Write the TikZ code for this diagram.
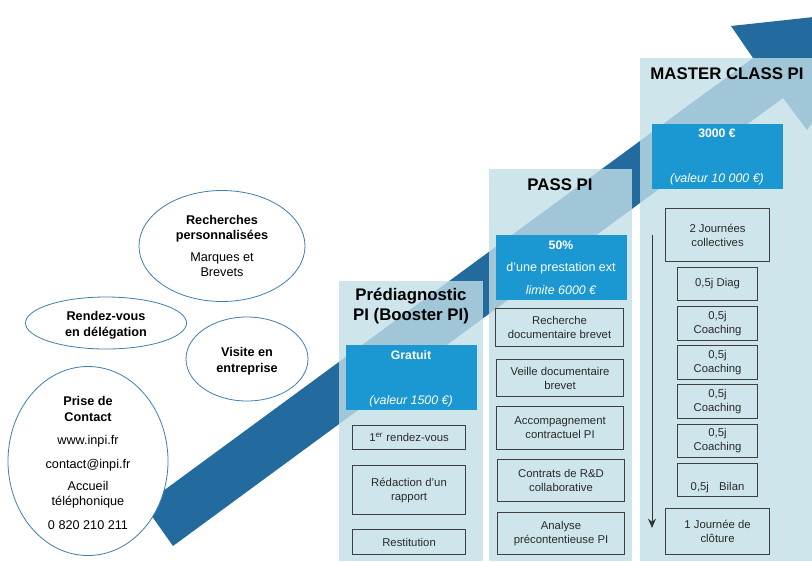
\documentclass[tikz,border=0pt]{standalone}
\usepackage{fontspec}
\setmainfont{Liberation Sans}
\usetikzlibrary{shapes.geometric,arrows.meta}
\definecolor{dark}{HTML}{236B9F}
\definecolor{panelc}{HTML}{C2DFE7}
\definecolor{bluebox}{HTML}{1B98D2}
\definecolor{ringc}{HTML}{3F7FAF}
\definecolor{txt}{HTML}{2A2A2A}
\tikzset{
  x=0.75pt,y=-0.75pt,
  panel/.style={fill=panelc,fill opacity=0.79,draw=none},
  blue/.style={fill=bluebox,draw=none},
  bub/.style={ellipse,draw=ringc,line width=0.6pt,fill=white,inner xsep=0pt,inner ysep=-25pt,align=center,font=\fontsize{9.5}{11.6}\selectfont,text=black},
  title/.style={font=\bfseries\fontsize{12.6}{15.5}\selectfont,text=black,align=center},
  wb/.style={font=\fontsize{9.4}{11}\selectfont,text=white,align=center},
  wbb/.style={wb,font=\bfseries\fontsize{9.2}{11}\selectfont},
  wbi/.style={wb,font=\itshape\fontsize{9.3}{11}\selectfont},
  tb/.style={draw=black!75,line width=0.8pt,fill=none,align=center,font=\fontsize{8.5}{10.5}\selectfont,text=txt,inner sep=0pt},
}
\newcommand{\boxat}[5]{\node[tb,minimum width=#3*0.75pt,minimum height=#4*0.75pt,anchor=north west] (#1) at #2 {#5};}
\newcommand{\down}{\rule{0pt}{10pt}}
\begin{document}
\begin{tikzpicture}
\useasboundingbox (0,0) rectangle (812,561);
\clip (0,0) rectangle (812,561);
\fill[white] (0,0) rectangle (812,561);
% rising arrow
\fill[dark] (144,505) -- (753,58) -- (731,26) -- (860,12) -- (860,60) -- (807,130) -- (783,98) -- (173,546) -- cycle;
% panels
\fill[panel] (339,281) rectangle (483,561);
\fill[panel] (489,169) rectangle (632,561);
\fill[panel] (640,58) rectangle (812,561);
% panel titles
\node[title] (t1) at (411,306) {Prédiagnostic\\PI (Booster PI)};
\node[title] (t2) at (560,185) {PASS PI};
\node[title] (t3) at (727,74) {MASTER CLASS PI};
% blue boxes
\fill[blue] (346,345) rectangle (477,410);
\fill[blue] (496,235) rectangle (627,300);
\fill[blue] (652,124) rectangle (783,189);
\node[wbb] (b1a) at (411,355) {Gratuit};
\node[wbi] (b1b) at (411,401) {(valeur 1500 €)};
\node[wbb] (b2a) at (561,245) {50\%};
\node[wb] (b2b) at (561,268) {d’une prestation ext};
\node[wbi] (b2c) at (561,290) {limite 6000 €};
\node[wbb] (b3a) at (717,133) {3000 €};
\node[wbi] (b3b) at (717,179) {(valeur 10 000 €)};
% panel 1 boxes
\boxat{a1}{(352,425)}{113}{24}{1\textsuperscript{er} rendez-vous}
\boxat{a2}{(352,465)}{113}{49}{Rédaction d’un\\rapport}
\boxat{a3}{(352,529)}{113}{25}{Restitution}
% panel 2 boxes
\boxat{c1}{(495,308)}{128}{38}{Recherche\\documentaire brevet}
\boxat{c2}{(496,359)}{127}{37}{Veille documentaire\\brevet}
\boxat{c3}{(496,406)}{127}{43}{Accompagnement\\contractuel PI}
\boxat{c4}{(497,459)}{127}{42}{Contrats de R\&D\\collaborative}
\boxat{c5}{(497,512)}{127}{42}{Analyse\\précontentieuse PI}
% panel 3 boxes
\boxat{d1}{(665,208)}{104}{53}{2 Journées\\collectives}
\boxat{d2}{(677,267)}{80}{33}{0,5j Diag}
\boxat{d3}{(677,306)}{80}{34}{0,5j\\Coaching}
\boxat{d4}{(677,345)}{80}{34}{0,5j\\Coaching}
\boxat{d5}{(677,384)}{80}{34}{0,5j\\Coaching}
\boxat{d6}{(677,424)}{80}{33}{0,5j\\Coaching}
\boxat{d7}{(677,463)}{80}{33}{\strut\\0,5j\hspace{0.9em}Bilan}
\boxat{d8}{(665,508)}{104}{46}{1 Journée de\\clôture}
\coordinate (tl) at (652,235);
\coordinate (bl) at (652,528);
\draw[-{Stealth[length=7pt,width=6pt]},line width=0.7pt,black!80] (tl) -- (bl);
% bubbles
\node[bub,minimum width=166*0.75pt,minimum height=111*0.75pt] (e1) at (222,246) {\textbf{Recherches}\\\textbf{personnalisées}\\[4.5pt]Marques et\\Brevets};
\node[bub,minimum width=161*0.75pt,minimum height=52*0.75pt] (e2) at (106,323) {\down\textbf{Rendez-vous}\\\textbf{en délégation}};
\node[bub,minimum width=122*0.75pt,minimum height=84*0.75pt] (e3) at (247,359) {\down\textbf{Visite en}\\\textbf{entreprise}};
\node[bub,minimum width=160*0.75pt,minimum height=189*0.75pt] (e4) at (88,461) {\down\textbf{Prise de}\\\textbf{Contact}\\[6pt]www.inpi.fr\\[6pt]contact@inpi.fr\\[5pt]Accueil\\téléphonique\\[6pt]0 820 210 211};
\end{tikzpicture}
\end{document}
